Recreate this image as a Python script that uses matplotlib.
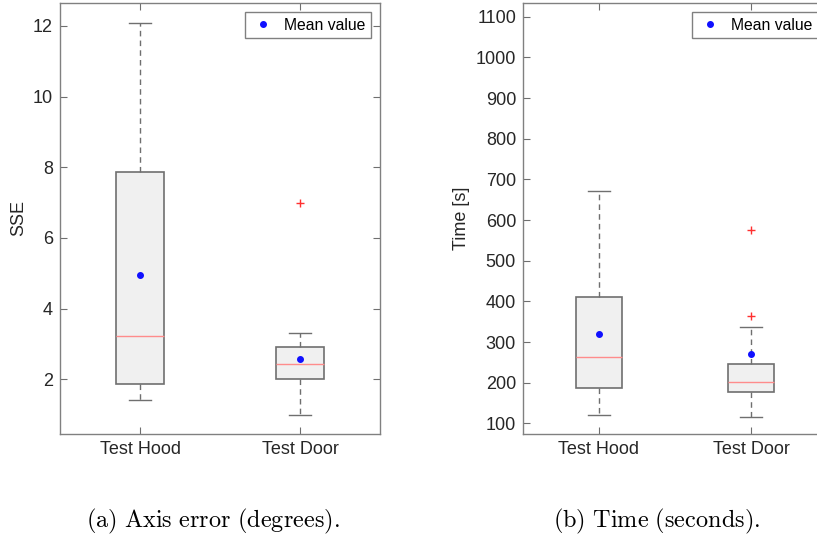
import matplotlib.pyplot as plt

plt.rcParams['font.family'] = ['Liberation Sans', 'DejaVu Sans']
plt.rcParams['mathtext.fontset'] = 'cm'

categories = ['Test Hood', 'Test Door']

# box statistics: whislo, q1, med, q3, whishi, mean, outliers
sse_stats = [
    dict(label='Test Hood', whislo=1.41, q1=1.86, med=3.23, q3=7.86, whishi=12.07, mean=4.95, fliers=[]),
    dict(label='Test Door', whislo=1.00, q1=2.00, med=2.44, q3=2.90, whishi=3.31, mean=2.57, fliers=[7.0]),
]
time_stats = [
    dict(label='Test Hood', whislo=121, q1=188, med=263, q3=410, whishi=671, mean=320, fliers=[]),
    dict(label='Test Door', whislo=117, q1=177, med=202, q3=246, whishi=337, mean=271, fliers=[365, 575]),
]
sse_ticks = [2, 4, 6, 8, 10, 12]
time_ticks = [100, 200, 300, 400, 500, 600, 700, 800, 900, 1000, 1100]

grey = '#6f6f6f'
text_col = '#262626'

fig = plt.figure(figsize=(8.17, 5.39), dpi=100)
ax1 = fig.add_axes([60/817, 1-434/539, 320/817, 431/539])
# right panel is cut off by the figure edge in the original
ax2 = fig.add_axes([523/817, 1-434/539, 304/817, 431/539])


def draw(ax, stats, ylim, ticks, ylabel):
    ax.bxp(stats, positions=[1, 2], widths=0.3, showmeans=False, patch_artist=True,
           boxprops=dict(facecolor='#f0f0f0', edgecolor=grey, linewidth=1.2),
           medianprops=dict(color='#ff8c8c', linewidth=1.0),
           whiskerprops=dict(color=grey, linestyle=(0, (4, 3)), linewidth=1.0),
           capprops=dict(color=grey, linewidth=1.0),
           capwidths=0.14,
           flierprops=dict(marker='+', markeredgecolor='#ff3030', markersize=6, linestyle='none'))
    means = [s['mean'] for s in stats]
    ax.plot([1, 2], means, 'o', color='#1010ff', markersize=4, linestyle='none', label='Mean value', zorder=5)
    ax.set_xlim(0.5, 2.5)
    ax.set_ylim(*ylim)
    ax.set_yticks(ticks)
    ax.set_xticks([1, 2])
    ax.set_xticklabels(categories)
    ax.set_ylabel(ylabel, fontsize=13, color=text_col)
    ax.tick_params(direction='in', which='both', top=True, right=True, length=5,
                   color=grey, labelsize=13, labelcolor=text_col, pad=5)
    for sp in ax.spines.values():
        sp.set_color('#808080')
        sp.set_linewidth(1.0)
    leg = ax.legend(loc='upper right', fontsize=11.3, handletextpad=0.6, handlelength=1.5,
                    borderaxespad=0.6, fancybox=False, framealpha=1.0, borderpad=0.35)
    leg.get_frame().set_edgecolor('#808080')
    leg.get_frame().set_linewidth(1.0)


draw(ax1, sse_stats, (0.45, 12.65), sse_ticks, 'SSE')
draw(ax2, time_stats, (74, 1134), time_ticks, 'Time [s]')

fig.text(213/817, 1-521/539, r'$\mathrm{(a)\ Axis\ error\ (degrees).}$', ha='center', va='center', fontsize=17.5)
fig.text(657/817, 1-521/539, r'$\mathrm{(b)\ Time\ (seconds).}$', ha='center', va='center', fontsize=17.5)

fig.savefig('out.png', dpi=100)
